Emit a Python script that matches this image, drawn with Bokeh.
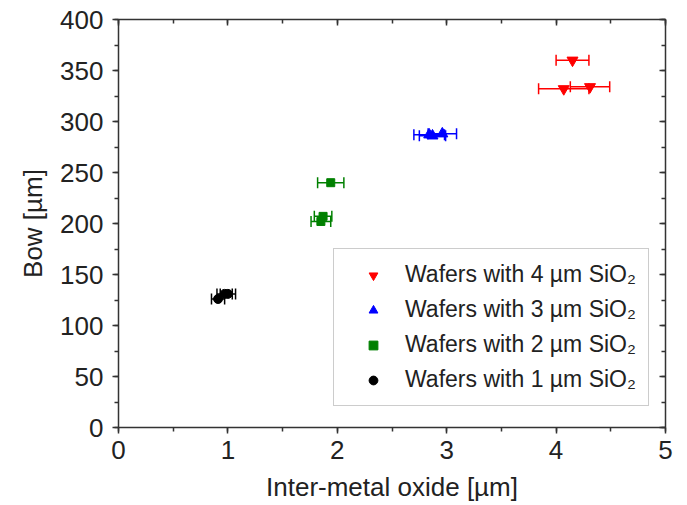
from bokeh.plotting import figure
from bokeh.models import (ColumnDataSource, Whisker, TeeHead, Legend, LegendItem,
                          LinearAxis, Range1d, SingleIntervalTicker,
                          CustomJSTickFormatter)
from bokeh.embed import file_html
from bokeh.resources import INLINE

# ---- data ----
red_x = [4.15, 4.07, 4.31]
red_y = [360, 332, 334]
red_err = [0.15, 0.23, 0.18]

blue_x = [2.84, 2.87, 2.96]
blue_y = [287, 286, 288]
blue_err = [0.14, 0.12, 0.13]

green_x = [1.94, 1.87, 1.85]
green_y = [240, 207, 202]
green_err = [0.12, 0.08, 0.09]

black_x = [0.91, 0.97, 1.00]
black_y = [126, 131, 131]
black_err = [0.06, 0.07, 0.07]

labels = ["Wafers with 4 µm SiO₂", "Wafers with 3 µm SiO₂",
          "Wafers with 2 µm SiO₂", "Wafers with 1 µm SiO₂"]

FONT = "Liberation Sans"
AX = "#333333"

p = figure(width=680, height=504, output_backend="svg", toolbar_location=None,
           x_range=Range1d(0, 5), y_range=Range1d(0, 400),
           min_border_left=118, min_border_right=15, min_border_top=19,
           min_border_bottom=76)
p.grid.visible = False
p.outline_line_color = None

# main axes
p.xaxis.ticker = SingleIntervalTicker(interval=1, num_minor_ticks=2)
p.yaxis.ticker = SingleIntervalTicker(interval=50, num_minor_ticks=2)
for ax in (p.xaxis[0], p.yaxis[0]):
    ax.axis_line_color = AX
    ax.axis_line_width = 1.5
    ax.major_tick_line_color = AX
    ax.minor_tick_line_color = AX
    ax.major_tick_line_width = 1.5
    ax.minor_tick_line_width = 1.5
    ax.major_tick_out = 6
    ax.major_tick_in = 0
    ax.minor_tick_out = 4
    ax.minor_tick_in = 0
    ax.major_label_text_font = FONT
    ax.major_label_text_font_size = "26px"
    ax.major_label_text_color = "#222222"
    ax.axis_label_text_font = FONT
    ax.axis_label_text_font_size = "26px"
    ax.axis_label_text_font_style = "normal"
    ax.axis_label_text_color = "#222222"
p.xaxis.axis_label = "Inter-metal oxide [µm]"
p.yaxis.axis_label = "Bow [µm]"
p.xaxis.major_label_standoff = 7
p.xaxis.axis_label_standoff = 10
p.yaxis.major_label_standoff = 9
p.yaxis.axis_label_standoff = 9

# mirror axes (ticks inward, no labels)
blank = CustomJSTickFormatter(code="return ''")
for loc, interval in (("above", 1), ("right", 50)):
    a = LinearAxis(ticker=SingleIntervalTicker(interval=interval, num_minor_ticks=2),
                   formatter=blank,
                   axis_line_color=AX, axis_line_width=1.5,
                   major_tick_line_color=AX, minor_tick_line_color=AX,
                   major_tick_line_width=1.5, minor_tick_line_width=1.5,
                   major_tick_in=6, major_tick_out=0,
                   minor_tick_in=4, minor_tick_out=0,
                   major_label_standoff=0)
    p.add_layout(a, loc)

series = [
    (red_x, red_y, red_err, "red", "inverted_triangle", 11),
    (blue_x, blue_y, blue_err, "blue", "triangle", 11),
    (green_x, green_y, green_err, "green", "square", 8),
    (black_x, black_y, black_err, "black", "circle", 9),
]

items = []
for (xs, ys, es, col, mk, sz), lab in zip(series, labels):
    src = ColumnDataSource(dict(x=xs, y=ys,
                                lo=[a - b for a, b in zip(xs, es)],
                                hi=[a + b for a, b in zip(xs, es)]))
    w = Whisker(base="y", lower="lo", upper="hi", dimension="width", source=src,
                line_color=col, line_width=1.5,
                upper_head=TeeHead(size=11, line_color=col, line_width=1.5),
                lower_head=TeeHead(size=11, line_color=col, line_width=1.5))
    p.add_layout(w)
    r = p.scatter("x", "y", source=src, marker=mk, size=sz,
                  fill_color=col, line_color=col)
    items.append(LegendItem(label=lab, renderers=[r]))

leg = Legend(items=items, location=(215, 21), margin=0, padding=12,
             glyph_width=54, glyph_height=22, label_height=27,
             label_standoff=5, spacing=8,
             label_text_font=FONT, label_text_font_size="23px",
             label_text_color="#222222",
             border_line_color="#9a9a9a", border_line_width=1.2,
             background_fill_alpha=1)
p.add_layout(leg, "center")

open("out.html", "w").write(file_html(p, INLINE))
